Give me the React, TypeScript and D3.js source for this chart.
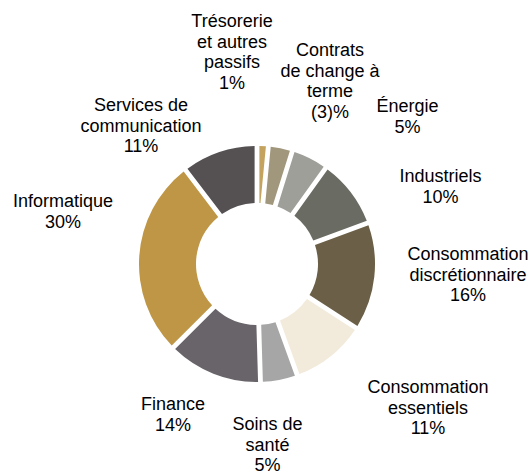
import React from "react";
import * as d3 from "d3";

const categories = [
  "Trésorerie et autres passifs",
  "Contrats de change à terme",
  "Énergie",
  "Industriels",
  "Consommation discrétionnaire",
  "Consommation essentiels",
  "Soins de santé",
  "Finance",
  "Informatique",
  "Services de communication",
];
const values = [1, -3, 5, 10, 16, 11, 5, 14, 30, 11];
const labelLines = [
  ["Trésorerie", "et autres", "passifs", "1%"],
  ["Contrats", "de change à", "terme", "(3)%"],
  ["Énergie", "5%"],
  ["Industriels", "10%"],
  ["Consommation", "discrétionnaire", "16%"],
  ["Consommation", "essentiels", "11%"],
  ["Soins de", "santé", "5%"],
  ["Finance", "14%"],
  ["Informatique", "30%"],
  ["Services de", "communication", "11%"],
];
const colors = [
  "#C4A35E",
  "#A1977C",
  "#9E9F99",
  "#6A6B63",
  "#6B5F47",
  "#F2EADB",
  "#A6A6A6",
  "#69646A",
  "#BE9646",
  "#555052",
];
// label layout: center x, first baseline y
const labelPos: [number, number][] = [
  [232, 27],
  [330, 56],
  [407.5, 112],
  [440.5, 182],
  [468, 260],
  [428, 393],
  [267.5, 430],
  [173, 410],
  [63, 207],
  [141, 111],
];

const W = 530;
const H = 475;
const cx = 257;
const cy = 264;
const outerR = 118;
const innerR = 61;

export default function App() {
  const data = categories.map((c, i) => ({ c, v: Math.abs(values[i]), i }));
  const pie = d3
    .pie<any>()
    .sort(null)
    .value((d) => d.v)
    .padAngle(4.8 / outerR);
  const arc = d3
    .arc<any>()
    .innerRadius(innerR)
    .outerRadius(outerR)
    .padRadius(outerR);
  const arcs = pie(data);
  return (
    <svg
      width={W}
      height={H}
      style={{ position: "absolute", left: 0, top: 0, background: "#fff" }}
      fontFamily="'Liberation Sans', Arial, sans-serif"
    >
      <g transform={`translate(${cx},${cy})`}>
        {arcs.map((a, i) => (
          <path key={i} d={arc(a) || ""} fill={colors[i]} />
        ))}
      </g>
      {labelLines.map((lines, i) => (
        <text
          key={i}
          x={labelPos[i][0]}
          y={labelPos[i][1]}
          textAnchor="middle"
          fontSize={18}
          fill="#000"
        >
          {lines.map((l, j) => (
            <tspan key={j} x={labelPos[i][0]} dy={j === 0 ? 0 : 20.6}>
              {l}
            </tspan>
          ))}
        </text>
      ))}
    </svg>
  );
}
